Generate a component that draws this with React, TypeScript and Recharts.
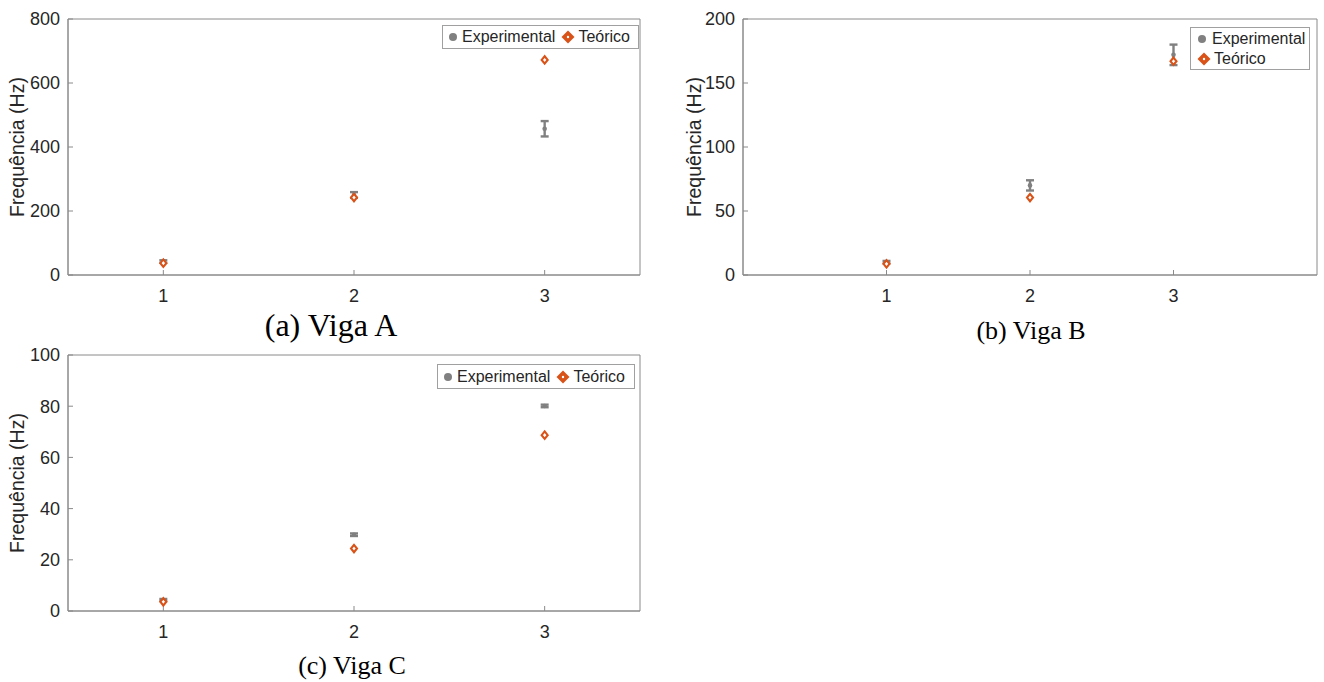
import React from 'react';
import { ScatterChart, Scatter, XAxis, YAxis, ErrorBar, ReferenceArea } from 'recharts';

const categories = [1, 2, 3];

const expA = [42, 250, 457];
const errA = [4, 9, 24];
const theoA = [37, 242, 672];

const expB = [10, 70, 172];
const errB = [1, 4, 8];
const theoB = [8.7, 60.5, 167];

const expC = [4.3, 29.8, 80.1];
const errC = [0.4, 0.5, 0.5];
const theoC = [3.6, 24.4, 68.7];

const ticksA = [0, 200, 400, 600, 800];
const ticksB = [0, 50, 100, 150, 200];
const ticksC = [0, 20, 40, 60, 80, 100];

const GRAY = '#808080';
const ORANGE = '#D95319';
const AXIS = '#8a8a8a';
const TEXT = '#262626';
const SANS = '"Liberation Sans", Arial, Helvetica, sans-serif';
const SERIF = '"Liberation Serif", "Times New Roman", serif';

const Diamond = (props: any) => {
  const { cx, cy } = props;
  if (cx == null || cy == null) return null;
  const w = 3.0, h = 3.7;
  return (
    <path
      d={`M${cx},${cy - h} L${cx + w},${cy} L${cx},${cy + h} L${cx - w},${cy} Z`}
      fill="#ffffff"
      stroke={ORANGE}
      strokeWidth={2.1}
    />
  );
};

const Dot = (props: any) => {
  const { cx, cy } = props;
  if (cx == null || cy == null) return null;
  return <circle cx={cx} cy={cy} r={2.3} fill={GRAY} />;
};

type PanelProps = {
  exp: number[];
  err: number[];
  theo: number[];
  ticks: number[];
  xDomain: [number, number];
  width: number;
  yWidth: number;
  marginRight: number;
};

const Panel = ({ exp, err, theo, ticks, xDomain, width, yWidth, marginRight }: PanelProps) => {
  const expData = categories.map((c, i) => ({ x: c, y: exp[i], err: err[i] }));
  const theoData = categories.map((c, i) => ({ x: c, y: theo[i] }));
  const yMax = ticks[ticks.length - 1];
  return (
    <ScatterChart width={width} height={320} margin={{ top: 19, right: marginRight, left: 0, bottom: 20 }}>
      <ReferenceArea x1={xDomain[0]} x2={xDomain[1]} y1={0} y2={yMax} fill="none" stroke={AXIS} strokeWidth={1} />
      <XAxis
        type="number"
        dataKey="x"
        domain={xDomain}
        ticks={categories}
        allowDataOverflow
        height={25}
        stroke={AXIS}
        tickSize={-5}
        tickMargin={19}
        tick={{ fill: TEXT, fontSize: 18, fontFamily: SANS }}
      />
      <YAxis
        type="number"
        dataKey="y"
        domain={[0, yMax]}
        ticks={ticks}
        allowDataOverflow
        width={yWidth}
        stroke={AXIS}
        tickSize={-5}
        tickMargin={13}
        tick={{ fill: TEXT, fontSize: 18, fontFamily: SANS }}
      />
      <Scatter data={expData} fill={GRAY} shape={Dot} isAnimationActive={false}>
        <ErrorBar dataKey="err" direction="y" width={4} stroke={GRAY} strokeWidth={2.4} />
      </Scatter>
      <Scatter data={theoData} fill={ORANGE} shape={Diamond} isAnimationActive={false} />
    </ScatterChart>
  );
};

const LegendDot = () => (
  <svg width={10} height={10} style={{ display: 'inline-block', verticalAlign: 'middle' }}>
    <circle cx={5} cy={5} r={4} fill={GRAY} />
  </svg>
);
const LegendDiamond = () => (
  <svg width={14} height={14} style={{ display: 'inline-block', verticalAlign: 'middle' }}>
    <path d="M7,0.5 L13.5,7 L7,13.5 L0.5,7 Z" fill={ORANGE} />
    <circle cx={7} cy={7} r={1.2} fill="#ffffff" />
  </svg>
);

const legendBox: React.CSSProperties = {
  position: 'absolute',
  background: '#ffffff',
  border: '1px solid #a0a0a0',
  fontFamily: SANS,
  fontSize: 16,
  color: TEXT,
  boxSizing: 'border-box',
  lineHeight: '20px',
};

const YLabel = ({ left, top }: { left: number; top: number }) => (
  <div
    style={{
      position: 'absolute',
      left,
      top,
      transform: 'translate(-50%, -50%) rotate(-90deg)',
      fontFamily: SANS,
      fontSize: 19.5,
      color: TEXT,
      whiteSpace: 'nowrap',
    }}
  >
    Frequência (Hz)
  </div>
);

const Caption = ({ left, top, size, text }: { left: number; top: number; size: number; text: string }) => (
  <div
    style={{
      position: 'absolute',
      left,
      top,
      transform: 'translate(-50%, -50%)',
      fontFamily: SERIF,
      fontSize: size,
      color: '#000',
      whiteSpace: 'nowrap',
    }}
  >
    {text}
  </div>
);

export default function App() {
  return (
    <div style={{ position: 'absolute', left: 0, top: 0, width: 1324, height: 682, background: '#fff', overflow: 'hidden' }}>
      <div style={{ position: 'absolute', left: 0, top: 0 }}>
        <Panel exp={expA} err={errA} theo={theoA} ticks={ticksA} xDomain={[0.5, 3.5]} width={660} yWidth={68} marginRight={20} />
      </div>
      <div style={{ position: 'absolute', left: 680, top: 0 }}>
        <Panel exp={expB} err={errB} theo={theoB} ticks={ticksB} xDomain={[0, 4]} width={644} yWidth={63} marginRight={7} />
      </div>
      <div style={{ position: 'absolute', left: 0, top: 336 }}>
        <Panel exp={expC} err={errC} theo={theoC} ticks={ticksC} xDomain={[0.5, 3.5]} width={660} yWidth={68} marginRight={20} />
      </div>

      <YLabel left={17} top={147} />
      <YLabel left={694} top={147} />
      <YLabel left={17} top={483} />

      <Caption left={331} top={325} size={32} text="(a) Viga A" />
      <Caption left={1031} top={331} size={26} text="(b) Viga B" />
      <Caption left={352} top={666} size={26} text="(c) Viga C" />

      <div style={{ ...legendBox, left: 442, top: 25, width: 197, height: 24, display: 'flex', alignItems: 'center', paddingLeft: 5 }}>
        <LegendDot />
        <span style={{ marginLeft: 4 }}>Experimental</span>
        <span style={{ marginLeft: 6, display: 'inline-flex' }}><LegendDiamond /></span>
        <span style={{ marginLeft: 3 }}>Teórico</span>
      </div>

      <div style={{ ...legendBox, left: 1190, top: 27, width: 120, height: 43, paddingLeft: 6, paddingTop: 1 }}>
        <div style={{ display: 'flex', alignItems: 'center' }}>
          <LegendDot />
          <span style={{ marginLeft: 5 }}>Experimental</span>
        </div>
        <div style={{ display: 'flex', alignItems: 'center' }}>
          <LegendDiamond />
          <span style={{ marginLeft: 3 }}>Teórico</span>
        </div>
      </div>

      <div style={{ ...legendBox, left: 437, top: 364, width: 198, height: 25, display: 'flex', alignItems: 'center', paddingLeft: 5 }}>
        <LegendDot />
        <span style={{ marginLeft: 4 }}>Experimental</span>
        <span style={{ marginLeft: 6, display: 'inline-flex' }}><LegendDiamond /></span>
        <span style={{ marginLeft: 3 }}>Teórico</span>
      </div>
    </div>
  );
}
